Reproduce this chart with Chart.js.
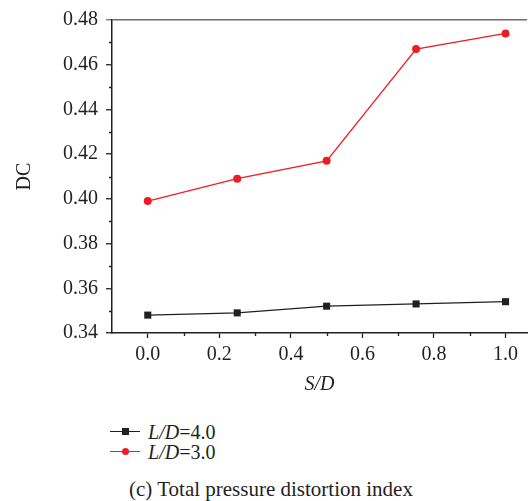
<!DOCTYPE html>
<html>
<head>
<meta charset="utf-8">
<script src="https://cdn.jsdelivr.net/npm/chart.js@4"></script>
<style>
  body { margin: 0; background: #fff; width: 532px; height: 501px; overflow: hidden; position: relative; font-family: "Liberation Serif", serif; color: #231f20; }
  #wrap { position: absolute; left: 0; top: 0; width: 532px; height: 400px; }
  .leg { position: absolute; left: 110px; height: 20px; font-size: 20px; line-height: 20px; white-space: nowrap; }
  .leg .ln { position: absolute; left: 0; top: 9px; width: 30px; height: 1.3px; }
  .leg .mk { position: absolute; left: 12px; top: 6px; width: 7px; height: 7px; }
  .leg .tx { position: absolute; left: 38px; top: 0; }
  #caption { position: absolute; left: 71px; width: 400px; top: 477px; text-align: center; font-size: 21px; }
</style>
</head>
<body>
<div id="wrap"><canvas id="dc"></canvas></div>
<div id="legend"></div>
<div id="caption">(c) Total pressure distortion index</div>
<script>
// S/D positions and DC values
const sdValues = [0.0, 0.25, 0.5, 0.75, 1.0];
const dcLD4 = [0.348, 0.349, 0.352, 0.353, 0.354];
const dcLD3 = [0.399, 0.409, 0.417, 0.467, 0.474];
const seriesNames = ['L/D=4.0', 'L/D=3.0'];
const xTickValues = [0.0, 0.2, 0.4, 0.6, 0.8, 1.0];
const xMinorValues = [0.1, 0.3, 0.5, 0.7, 0.9];
const yMinorValues = [0.35, 0.37, 0.39, 0.41, 0.43, 0.45, 0.47];

var axisColor = '#231f20';
var frameColor = '#6d6d6d';

function pts(ys) {
	return sdValues.map((x, i) => ({ x: x, y: ys[i] }));
}

// small ticks between the labelled ones
var minorTicks = {
	id: 'minorTicks',
	afterDraw: function (chart) {
		const c = chart.ctx, xs = chart.scales.x, ys = chart.scales.y;
		c.save();
		c.strokeStyle = axisColor;
		c.lineWidth = 1.3;
		c.beginPath();
		xMinorValues.forEach(v => {
			const px = Math.round(xs.getPixelForValue(v)) + 0.5;
			c.moveTo(px, ys.bottom);
			c.lineTo(px, ys.bottom + 3);
		});
		yMinorValues.forEach(v => {
			const py = Math.round(ys.getPixelForValue(v)) + 0.5;
			c.moveTo(xs.left - 3, py);
			c.lineTo(xs.left, py);
		});
		c.stroke();
		c.restore();
	}
};

const isTop = ctx => ctx.tick && Math.abs(ctx.tick.value - 0.48) < 1e-6;

new Chart(document.getElementById('dc'), {
	type: 'line',
	data: {
		datasets: [
			{
				label: seriesNames[0],
				data: pts(dcLD4),
				borderColor: axisColor,
				backgroundColor: axisColor,
				borderWidth: 1.3,
				pointStyle: 'rect',
				pointRadius: 5,
				pointBorderWidth: 0
			},
			{
				label: seriesNames[1],
				data: pts(dcLD3),
				borderColor: '#ed1c24',
				backgroundColor: '#ed1c24',
				borderWidth: 1.3,
				pointStyle: 'circle',
				pointRadius: 4,
				pointBorderWidth: 0
			}
		]
	},
	options: {
		responsive: true,
		maintainAspectRatio: false,
		animation: false,
		layout: { padding: { top: 19, left: 0, right: 0, bottom: 0 } },
		plugins: { legend: { display: false }, tooltip: { enabled: false } },
		scales: {
			x: {
				type: 'linear',
				min: -0.1,
				max: 1.06,
				afterBuildTicks: s => { s.ticks = xTickValues.map(v => ({ value: v })); },
				afterFit: s => { s.height = 67; },
				border: { display: true, color: axisColor, width: 1.5 },
				grid: { drawOnChartArea: false, tickLength: 5, tickColor: axisColor, tickWidth: 1.3 },
				ticks: {
					color: axisColor,
					padding: 5,
					maxRotation: 0,
					font: { family: 'Liberation Serif', size: 20 },
					callback: v => v.toFixed(1)
				},
				title: {
					display: true,
					text: 'S/D',
					color: axisColor,
					padding: { top: 0, bottom: 3 },
					font: { family: 'Liberation Serif', size: 20, style: 'italic' }
				}
			},
			y: {
				min: 0.34,
				max: 0.48,
				afterFit: s => { s.width = 112; },
				border: { display: true, color: axisColor, width: 1.5 },
				grid: {
					color: ctx => isTop(ctx) ? frameColor : 'rgba(0,0,0,0)',
					tickColor: ctx => isTop(ctx) ? frameColor : axisColor,
					lineWidth: 1.5,
					tickWidth: 1.3,
					tickLength: 6
				},
				ticks: {
					stepSize: 0.02,
					color: axisColor,
					padding: 8,
					font: { family: 'Liberation Serif', size: 20 },
					callback: v => v.toFixed(2)
				},
				title: {
					display: true,
					text: 'DC',
					color: axisColor,
					padding: { top: 13, bottom: 0 },
					font: { family: 'Liberation Serif', size: 20 }
				}
			}
		}
	},
	plugins: [minorTicks]
});

// legend below the plot, italic variable names
var legendColors = [axisColor, '#ed1c24'];
var legendTops = [422, 442];
var html = '';
seriesNames.forEach((name, i) => {
	const parts = name.split('=');
	const left = parts[0].split('/').map(p => '<i>' + p + '</i>').join('<i>/</i>');
	const radius = i === 1 ? '50%' : '0';
	html += '<div class="leg" style="top:' + legendTops[i] + 'px">' +
		'<div class="ln" style="background:' + legendColors[i] + '"></div>' +
		'<div class="mk" style="background:' + legendColors[i] + ';border-radius:' + radius + '"></div>' +
		'<div class="tx">' + left + '=' + parts[1] + '</div></div>';
});
document.getElementById('legend').innerHTML = html;
</script>
</body>
</html>
